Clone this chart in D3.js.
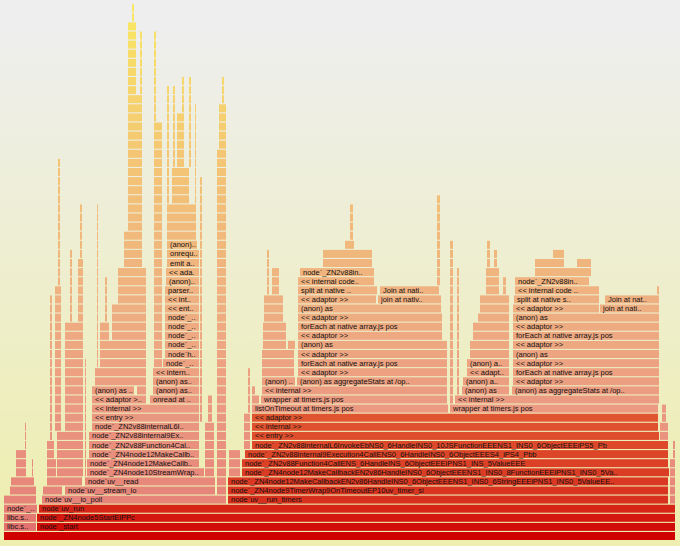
<!DOCTYPE html>
<html>
<head>
<meta charset="utf-8">
<script src="https://cdn.jsdelivr.net/npm/d3@7"></script>
<style>
html, body { margin: 0; padding: 0; background: #eeeeee; }
svg { display: block; }
.label { font-family: "Liberation Sans", Arial, sans-serif; font-size: 7.5px; fill: #111; }
</style>
</head>
<body>
<div id="flame"></div>
<script>
// samples: [depth, start, samples, label]
const baseFrames = [
    [0, 0, 672, ''],
    [1, 0, 33, 'libc.s..'], [1, 33, 639, 'node`_start'],
    [2, 0, 33, 'libc.s..'], [2, 33, 639, 'node`_ZN4node5StartEiPPc'],
    [3, 0, 34, 'node`_..'], [3, 35, 637, 'node`uv_run']
];

const ioPollFrames = [
    [4, 38, 185, 'node`uv__io_poll'],
    [5, 61, 151, 'node`uv__stream_io'],
    [6, 81, 131, 'node`uv__read'],
    [7, 83, 118, 'node`_ZN4node10StreamWrap..'],
    [8, 83, 113, 'node`_ZN4node12MakeCallb..'],
    [9, 85, 111, 'node`_ZN4node12MakeCallb..'],
    [10, 85, 111, 'node`_ZN2v88Function4Cal..'],
    [11, 85, 111, 'node`_ZN2v88internal9Ex..'],
    [12, 88, 108, 'node`_ZN2v88internalL6I..'],
    [13, 88, 108, '<< entry >>'],
    [14, 88, 108, '<< internal >>'],
    [15, 88, 55, '<< adaptor >..'], [15, 146, 50, 'onread at ..'],
    [16, 88, 43, '(anon) as ..'], [16, 149, 47, '(anon) as..'],
    [17, 149, 47, '(anon) as..'],
    [18, 149, 47, '<< intern..'],
    [19, 159, 37, 'node`_..'],
    [20, 161, 35, 'node`h..'],
    [21, 161, 35, 'node`_..'],
    [22, 161, 35, 'node`_..'],
    [23, 161, 35, 'node`_..'],
    [24, 161, 35, 'node`_..'],
    [25, 161, 35, '<< ent..'],
    [26, 161, 35, '<< int..'],
    [27, 161, 35, 'parser..'],
    [28, 162, 34, '(anon)..'],
    [29, 162, 34, '<< ada.'],
    [30, 163, 33, 'emit a..'],
    [31, 163, 33, 'onrequ..'],
    [32, 163, 31, '(anon)..']
];

const timerFrames = [
    [4, 224, 441, 'node`uv__run_timers'],
    [5, 224, 441, 'node`_ZN4node9TimerWrap9OnTimeoutEP10uv_timer_si'],
    [6, 224, 441, 'node`_ZN4node12MakeCallbackEN2v86HandleINS0_6ObjectEEENS1_INS0_6StringEEEiPNS1_INS0_5ValueEE..'],
    [7, 238, 428, 'node`_ZN4node12MakeCallbackEN2v86HandleINS0_6ObjectEEENS1_INS0_8FunctionEEEiPNS1_INS0_5Va..'],
    [8, 238, 427, 'node`_ZN2v88Function4CallENS_6HandleINS_6ObjectEEEiPNS1_INS_5ValueEEE'],
    [9, 241, 424, 'node`_ZN2v88internal9Execution4CallENS0_6HandleINS0_6ObjectEEES4_iPS4_Pbb'],
    [10, 248, 417, 'node`_ZN2v88internalL6InvokeEbNS0_6HandleINS0_10JSFunctionEEENS1_INS0_6ObjectEEEiPS5_Pb'],
    [11, 248, 408, '<< entry >>'],
    [12, 248, 407, '<< internal >>'],
    [13, 248, 407, '<< adaptor >>']
];

const listOnTimeoutFrames = [
    [14, 248, 197, 'listOnTimeout at timers.js pos'],
    [15, 257, 187, 'wrapper at timers.js pos'],
    [16, 258, 186, '<< internal >>'],
    [17, 258, 34, '(anon) ..'], [17, 293, 151, '(anon) as aggregateStats at /op..'],
    [18, 294, 150, '<< adaptor >>'],
    [19, 294, 150, 'forEach at native array.js pos'],
    [20, 294, 150, '<< adaptor >>'],
    [21, 294, 150, '(anon) as'],
    [22, 294, 145, '<< adaptor >>'],
    [23, 294, 145, 'forEach at native array.js pos'],
    [24, 294, 145, '<< adaptor >>'],
    [25, 294, 144, '(anon) as'],
    [26, 294, 79, '<< adaptor >>'], [26, 374, 64, 'join at nativ..'],
    [27, 294, 80, 'split at native ..'], [27, 376, 60, 'Join at nati..'],
    [28, 294, 77, '<< internal code..'],
    [29, 296, 75, 'node`_ZN2v88in..']
];

const wrapperFrames = [
    [14, 446, 209, 'wrapper at timers.js pos'],
    [15, 451, 205, '<< internal >>'],
    [16, 458, 48, '(anon) as'], [16, 508, 148, '(anon) as aggregateStats at /op..'],
    [17, 459, 47, '(anon) a..'], [17, 509, 147, '<< adaptor >>'],
    [18, 463, 43, '<< adapt..'], [18, 509, 147, 'forEach at native array.js pos'],
    [19, 463, 43, '(anon) a..'], [19, 509, 147, '<< adaptor >>'],
    [20, 509, 147, '(anon) as'],
    [21, 509, 147, '<< adaptor >>'],
    [22, 509, 147, 'forEach at native array.js pos'],
    [23, 509, 147, '<< adaptor >>'],
    [24, 509, 147, '(anon) as'],
    [25, 509, 87, '<< adaptor >>'], [25, 596, 60, 'join at nati..'],
    [26, 510, 86, 'split at native s..'], [26, 601, 55, 'Join at nat..'],
    [27, 511, 85, '<< internal code ..'],
    [28, 511, 75, 'node`_ZN2v88in..']
];

// unnamed stacks: [start, samples, fromDepth, toDepth]
const ioPollStacks = [
    [0, 33, 4, 4], [6, 27, 5, 5], [7, 24, 6, 6], [12, 11, 7, 9], [28, 2, 7, 8], [21, 2, 10, 12],
    [39, 20, 5, 5], [43, 36, 6, 6], [43, 10, 7, 8], [43, 8, 9, 10], [46, 3, 11, 26],
    [53, 27, 7, 11], [51, 7, 12, 27], [54, 3, 28, 41], [61, 19, 12, 23], [66, 3, 24, 31],
    [74, 6, 24, 30], [76, 3, 31, 36], [81, 2, 7, 19],
    [201, 10, 7, 12], [204, 5, 13, 15], [196, 3, 13, 39],
    [213, 10, 5, 42], [215, 8, 43, 47], [218, 3, 48, 50],
    [133, 10, 16, 16], [91, 52, 17, 18], [93, 2, 19, 36], [96, 47, 19, 21], [96, 10, 22, 23],
    [101, 3, 24, 28], [108, 35, 22, 25], [114, 29, 26, 29], [120, 19, 30, 33], [124, 15, 34, 48],
    [124, 9, 49, 56], [128, 3, 57, 58], [136, 3, 49, 55],
    [150, 9, 19, 45], [150, 3, 46, 55],
    [163, 30, 33, 36], [163, 3, 37, 49], [168, 18, 37, 40], [169, 3, 41, 49], [173, 8, 41, 46],
    [178, 3, 47, 50], [185, 3, 41, 50], [191, 2, 37, 47]
];

const timerStacks = [
    [225, 12, 7, 9], [240, 7, 10, 13], [244, 3, 14, 18],
    [248, 8, 15, 15], [248, 4, 16, 16], [258, 33, 18, 20], [259, 24, 21, 23], [284, 8, 21, 21],
    [260, 20, 24, 26], [268, 8, 27, 29], [263, 3, 27, 31],
    [433, 4, 28, 37], [446, 4, 15, 32],
    [319, 50, 30, 31], [341, 10, 32, 32], [346, 4, 33, 36],
    [453, 3, 16, 29], [466, 40, 20, 21], [469, 37, 22, 23], [474, 32, 24, 24], [476, 30, 25, 26],
    [482, 14, 27, 29], [483, 4, 30, 32], [490, 4, 30, 31], [499, 4, 27, 28],
    [531, 57, 29, 29], [531, 30, 30, 30], [573, 15, 30, 30], [549, 12, 31, 31],
    [653, 3, 27, 27], [656, 9, 11, 12], [658, 5, 13, 14], [666, 6, 4, 8], [669, 3, 9, 10]
];

const totalSamples = 672;
const maxDepth = 58;
const selected = [13, 248]; // "<< adaptor >>" under the timer path

const W = 680, H = 546;
const rowPitch = 9.1, frameH = 8;

const frames = [];
[baseFrames, ioPollFrames, timerFrames, listOnTimeoutFrames, wrapperFrames].forEach(list =>
    list.forEach(f => frames.push({depth: f[0], start: f[1], samples: f[2], name: f[3]})));
[ioPollStacks, timerStacks].forEach(list =>
    list.forEach(s => {
        for (let d = s[2]; d <= s[3]; d++) frames.push({depth: d, start: s[0], samples: s[1], name: ''});
    }));

const sel = frames.find(f => f.depth === selected[0] && f.start === selected[1] && f.name);
const isOnPath = f => f.depth <= sel.depth && f.start <= sel.start &&
    f.start + f.samples >= sel.start + sel.samples;

const x = d3.scaleLinear().domain([0, totalSamples]).range([4, 676]);
const y = d3.scaleLinear().domain([0, maxDepth]).range([532, 532 - maxDepth * rowPitch]);

const depthColor = d3.scaleLinear()
    .domain([0, 4, 13, 25, 40, 58])
    .range(['#d00000', '#d8301e', '#e05530', '#e6823a', '#eea530', '#f6de20'])
    .interpolate(d3.interpolateRgb);
const fadeAmount = d3.scaleLinear().domain([0, maxDepth]).range([0.45, 0.3]);
const fadeTo = d3.scaleLinear().domain([0, 20, maxDepth]).range(['#f6eeee', '#fbf6f2', '#ffffff']);
const fill = f => {
    const c = depthColor(f.depth);
    return isOnPath(f) ? c : d3.interpolateRgb(c, fadeTo(f.depth))(fadeAmount(f.depth));
};

const svg = d3.select('#flame').append('svg')
    .attr('width', W).attr('height', H)
    .attr('viewBox', `0 0 ${W} ${H}`);

const defs = svg.append('defs');
const bg = defs.append('linearGradient').attr('id', 'bg')
    .attr('x1', '0').attr('x2', '0').attr('y1', '0').attr('y2', '1');
bg.append('stop').attr('offset', '5%').attr('stop-color', '#eeeeee');
bg.append('stop').attr('offset', '95%').attr('stop-color', '#eeeeb0');

svg.append('rect').attr('width', W).attr('height', H).attr('fill', 'url(#bg)');

const g = svg.append('g');
const cell = g.selectAll('g.frame')
    .data(frames)
    .enter().append('g').attr('class', 'frame');

cell.append('rect')
    .attr('x', d => x(d.start))
    .attr('y', d => y(d.depth))
    .attr('width', d => Math.max(0.6, x(d.start + d.samples) - x(d.start) - 1))
    .attr('height', frameH)
    .attr('fill', fill);

cell.filter(d => d.name && (x(d.start + d.samples) - x(d.start)) > 12)
    .append('text')
    .attr('class', 'label')
    .attr('x', d => x(d.start) + 3)
    .attr('y', d => y(d.depth) + 6.5)
    .text(d => d.name);
</script>
</body>
</html>
